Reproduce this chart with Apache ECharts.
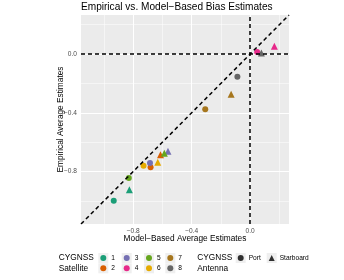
<!DOCTYPE html>
<html>
<head>
<meta charset="utf-8">
<script src="https://cdn.jsdelivr.net/npm/echarts@6/dist/echarts.min.js"></script>
<style>html,body{margin:0;padding:0;background:#fff}#c{width:344px;height:280px}</style>
</head>
<body>
<div id="c"></div>
<script>
// ---- data ----
var satellites = ['1', '2', '3', '4', '5', '6', '7', '8'];
var satColors = ['#1B9E77', '#D95F02', '#7570B3', '#E7298A', '#66A61E', '#E6AB02', '#A6761D', '#666666'];
var portX = [-0.933, -0.681, -0.685, 0.048, -0.830, -0.729, -0.307, -0.087];
var portY = [-0.999, -0.771, -0.742, 0.014, -0.844, -0.760, -0.375, -0.154];
var starX = [-0.826, -0.613, -0.562, 0.166, -0.587, -0.632, -0.130, 0.077];
var starY = [-0.923, -0.685, -0.662, 0.054, -0.676, -0.737, -0.273, 0.007];
var tickValues = [-0.8, -0.4, 0.0];
var minorBreaks = [-1.0, -0.6, -0.2, 0.2];
var axisMin = -1.157, axisMax = 0.266;

var FONT = 'Liberation Sans';
function fmt(v) { return (v < 0 ? '\u2212' : '') + Math.abs(v).toFixed(1); }

var series = [];
// panel background
series.push({
  type: 'line', silent: true, z: 0, symbol: 'none',
  data: [[axisMin, axisMin], [axisMax, axisMax]],
  lineStyle: { width: 0, opacity: 0 },
  markArea: { silent: true, z: 0, animation: false, itemStyle: { color: '#EBEBEB', opacity: 1 },
    data: [[{ xAxis: axisMin, yAxis: axisMin }, { xAxis: axisMax, yAxis: axisMax }]] }
});
// grid lines
function gridSeries(vals, w) {
  var d = [];
  vals.forEach(function (v) { d.push({ xAxis: v }); d.push({ yAxis: v }); });
  return {
    type: 'line', silent: true, z: 1, symbol: 'none',
    data: [[axisMin, axisMin], [axisMax, axisMax]],
    lineStyle: { width: 0, opacity: 0 },
    markLine: { silent: true, z: 1, symbol: ['none', 'none'], label: { show: false }, animation: false,
      lineStyle: { color: '#FFFFFF', width: w, type: 'solid', opacity: 1 }, data: d }
  };
}
series.push(gridSeries(minorBreaks, 0.5));
series.push(gridSeries(tickValues, 1.1));

satellites.forEach(function (s, i) {
  series.push({
    name: s, type: 'scatter', z: 3, symbol: 'circle',
    itemStyle: { color: satColors[i], opacity: 1 },
    data: [
      { value: [portX[i], portY[i]], symbol: 'circle', symbolSize: 6 },
      { value: [starX[i], starY[i]], symbol: 'triangle', symbolSize: 7 }
    ]
  });
});
series.push({ name: 'Port', type: 'scatter', symbol: 'circle', data: [], itemStyle: { color: '#000' } });
series.push({ name: 'Starboard', type: 'scatter', symbol: 'triangle', data: [], itemStyle: { color: '#000' } });
var dashStyle = { color: '#000', width: 1.5, type: [4, 3], opacity: 1 };
series.push({
  type: 'line', z: 4, silent: true, symbol: 'none',
  data: [[axisMin, axisMin], [axisMax, axisMax]],
  lineStyle: dashStyle,
  markLine: { silent: true, z: 6, symbol: ['none', 'none'], label: { show: false }, animation: false,
    lineStyle: dashStyle, data: [{ xAxis: 0 }, { yAxis: 0 }] }
});

var satKeyX = [103.3, 126.7, 149, 170.3];
var rowY = [258, 268.3];
var legends = [];
var graphics = [];
satKeyX.forEach(function (cx, c) {
  legends.push({
    data: [satellites[2 * c], satellites[2 * c + 1]],
    orient: 'vertical', left: cx - 3, top: 253, padding: 0, itemGap: 0.3,
    itemWidth: 6, itemHeight: 6, icon: 'circle', selectedMode: false,
    textStyle: { fontFamily: FONT, fontSize: 6.6, color: '#000', lineHeight: 10 }
  });
  rowY.forEach(function (ry) {
    graphics.push({ type: 'rect', shape: { x: cx - 5, y: ry - 5, width: 10, height: 10 }, style: { fill: '#EFEFEF' }, z: -1 });
  });
});
var antKeyX = [240.7, 271.7];
[['Port', 'circle'], ['Starboard', 'triangle']].forEach(function (p, i) {
  legends.push({
    data: [{ name: p[0], icon: p[1] }],
    orient: 'horizontal', left: antKeyX[i] - 3, top: 253, padding: 0,
    itemWidth: 6, itemHeight: 6, selectedMode: false,
    textStyle: { fontFamily: FONT, fontSize: 6.6, color: '#000', lineHeight: 10 }
  });
  graphics.push({ type: 'rect', shape: { x: antKeyX[i] - 5, y: 253, width: 10, height: 10 }, style: { fill: '#EFEFEF' }, z: -1 });
});

var chart = echarts.init(document.getElementById('c'), null, { renderer: 'canvas' });
chart.setOption({
  animation: false,
  title: [
    { text: 'Empirical vs. Model\u2212Based Bias Estimates', left: 81, top: 2, padding: 0,
      textStyle: { fontFamily: FONT, fontSize: 10.1, fontWeight: 'normal', color: '#000' } },
    { text: 'CYGNSS\nSatellite', left: 58.7, top: 253, padding: 0,
      textStyle: { fontFamily: FONT, fontSize: 8.3, fontWeight: 'normal', color: '#000', lineHeight: 10.3 } },
    { text: 'CYGNSS\nAntenna', left: 197.3, top: 253, padding: 0,
      textStyle: { fontFamily: FONT, fontSize: 8.3, fontWeight: 'normal', color: '#000', lineHeight: 10.3 } }
  ],
  grid: { left: 81, right: 55, top: 15, bottom: 56, show: false, containLabel: false },
  xAxis: {
    type: 'value', min: axisMin, max: axisMax,
    name: 'Model\u2212Based Average Estimates', nameLocation: 'middle', nameGap: 11, nameMoveOverlap: false,
    nameTextStyle: { fontFamily: FONT, fontSize: 8.3, color: '#000' },
    axisLine: { show: false },
    axisTick: { show: true, customValues: tickValues, length: 2.5, lineStyle: { color: '#333', width: 0.6 } },
    axisLabel: { customValues: tickValues, formatter: fmt, margin: 3.5, fontFamily: FONT, fontSize: 6.6, color: '#4D4D4D' },
    splitLine: { show: false }
  },
  yAxis: {
    type: 'value', min: axisMin, max: axisMax,
    name: 'Empirical Average Estimates', nameLocation: 'middle', nameGap: 16, nameMoveOverlap: false,
    nameTextStyle: { fontFamily: FONT, fontSize: 8.3, color: '#000' },
    axisLine: { show: false },
    axisTick: { show: true, customValues: tickValues, length: 2.5, lineStyle: { color: '#333', width: 0.6 } },
    axisLabel: { customValues: tickValues, formatter: fmt, margin: 4, fontFamily: FONT, fontSize: 6.6, color: '#4D4D4D' },
    splitLine: { show: false }
  },
  legend: legends,
  graphic: graphics,
  series: series
});
</script>
</body>
</html>
